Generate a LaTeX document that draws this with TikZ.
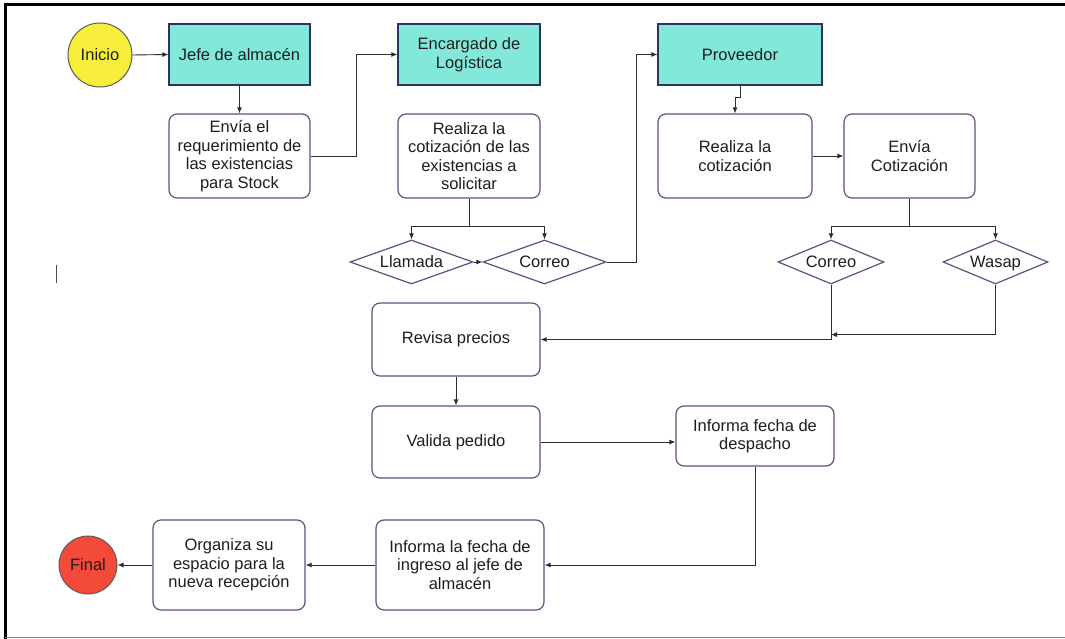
\documentclass[tikz,border=0pt]{standalone}
\usepackage{fontspec}
\setmainfont{Liberation Sans}
\usetikzlibrary{shapes.geometric,arrows.meta,calc}
\definecolor{teal1}{RGB}{130,233,218}
\definecolor{navy1}{RGB}{40,52,100}
\definecolor{boxb}{RGB}{80,88,125}
\definecolor{yel}{RGB}{247,238,60}
\definecolor{redf}{RGB}{243,74,58}
\definecolor{linec}{RGB}{45,45,45}
\definecolor{txt}{RGB}{30,30,30}
\begin{document}
\begin{tikzpicture}[x=1pt,y=-1pt,
  every node/.style={font=\fontsize{16.5}{18.5}\selectfont, text=txt, align=center, inner sep=2pt},
  role/.style={draw=navy1, line width=1.2pt, fill=teal1, minimum height=61pt},
  stepbox/.style={draw=boxb, line width=1.2pt, rounded corners=8pt, fill=white},
  choice/.style={diamond, draw=boxb, line width=1.2pt, fill=white, inner sep=0pt, aspect=2.6, minimum height=44pt, text height=10pt, text depth=0pt},
  endpt/.style={circle, draw=gray!70!black, line width=1pt, inner sep=0pt},
  conn/.style={draw=linec, line width=0.9pt, -{Latex[length=6pt,width=5pt]}},
  plain/.style={draw=linec, line width=0.9pt}
]
\useasboundingbox (0,0) rectangle (1065,639);
% frame
\draw[black, line width=3.5pt] (5.5,639) -- (5.5,4.5) -- (1065,4.5);
\draw[gray, line width=1.5pt] (5,637.5) -- (1065,637.5);
% cursor mark
\draw[gray!60!black, line width=1.3pt] (56.5,265) -- (56.5,283);

% nodes
\node[endpt, fill=yel, minimum size=64pt] (inicio) at (100,55) {Inicio};
\node[role, minimum width=141pt] (jefe) at (239.5,54.5) {Jefe de almacén};
\node[stepbox, minimum width=141pt, minimum height=84pt] (envia) at (239.5,156) {Envía el\\requerimiento de\\las existencias\\para Stock};
\node[role, minimum width=142pt] (encargado) at (469,54.5) {Encargado de\\Logística};
\node[stepbox, minimum width=142pt, minimum height=84pt] (realiza1) at (469,156) {Realiza la\\cotización de las\\existencias a\\solicitar};
\node[role, minimum width=164pt] (proveedor) at (740,54.5) {Proveedor};
\node[stepbox, minimum width=154pt, minimum height=84pt] (realiza2) at (735,156) {Realiza la\\cotización};
\node[stepbox, minimum width=131pt, minimum height=84pt] (enviacot) at (909.5,156) {Envía\\Cotización};
\node[choice, minimum width=123pt] (llamada) at (411.5,262) {Llamada};
\node[choice, minimum width=123pt] (correo1) at (544.5,262) {Correo};
\node[choice, minimum width=106pt] (correo2) at (831,262) {Correo};
\node[choice, minimum width=105pt] (wasap) at (995.5,262) {Wasap};
\node[stepbox, minimum width=168pt, minimum height=73pt] (revisa) at (456,339.5) {Revisa precios};
\node[stepbox, minimum width=168pt, minimum height=72pt] (valida) at (456,442) {Valida pedido};
\node[stepbox, minimum width=158pt, minimum height=60pt] (despacho) at (755,436) {Informa fecha de\\despacho};
\node[stepbox, minimum width=168pt, minimum height=90pt] (ingreso) at (460,565) {Informa la fecha de\\ingreso al jefe de\\almacén};
\node[stepbox, minimum width=152pt, minimum height=90pt] (organiza) at (229,565) {Organiza su\\espacio para la\\nueva recepción};
\node[endpt, fill=redf, minimum size=58pt] (final) at (88,565) {Final};

% connectors
\draw[conn] (inicio.east) -- (jefe.west);
\draw[conn] (jefe.south) -- (envia.north);
\draw[conn] (envia.east) -- ++(46,0) |- (encargado.west);
\draw[plain] (realiza1.south) -- ++(0,28) coordinate (s1);
\draw[conn] (s1) -| (llamada.north);
\draw[conn] (s1) -| (correo1.north);
\draw[conn] (llamada.east) -- (correo1.west);
\draw[conn] (correo1.east) -- ++(30,0) |- (proveedor.west);
\draw[conn] (proveedor.south) -- ++(0,12) -| (realiza2.north);
\draw[conn] (realiza2.east) -- (enviacot.west);
\draw[plain] (enviacot.south) -- ++(0,28) coordinate (s2);
\draw[conn] (s2) -| (correo2.north);
\draw[conn] (s2) -| (wasap.north);
\draw[conn] (correo2.south) |- (revisa.east);
\coordinate (j) at ($(correo2.south)+(0,50)$);
\draw[conn] (wasap.south) |- (j);
\draw[conn] (revisa.south) -- (valida.north);
\draw[conn] (valida.east) -- (valida.east -| despacho.west);
\draw[conn] (despacho.south) |- (ingreso.east);
\draw[conn] (ingreso.west) -- (organiza.east);
\draw[conn] (organiza.west) -- (final.east);
\end{tikzpicture}
\end{document}
